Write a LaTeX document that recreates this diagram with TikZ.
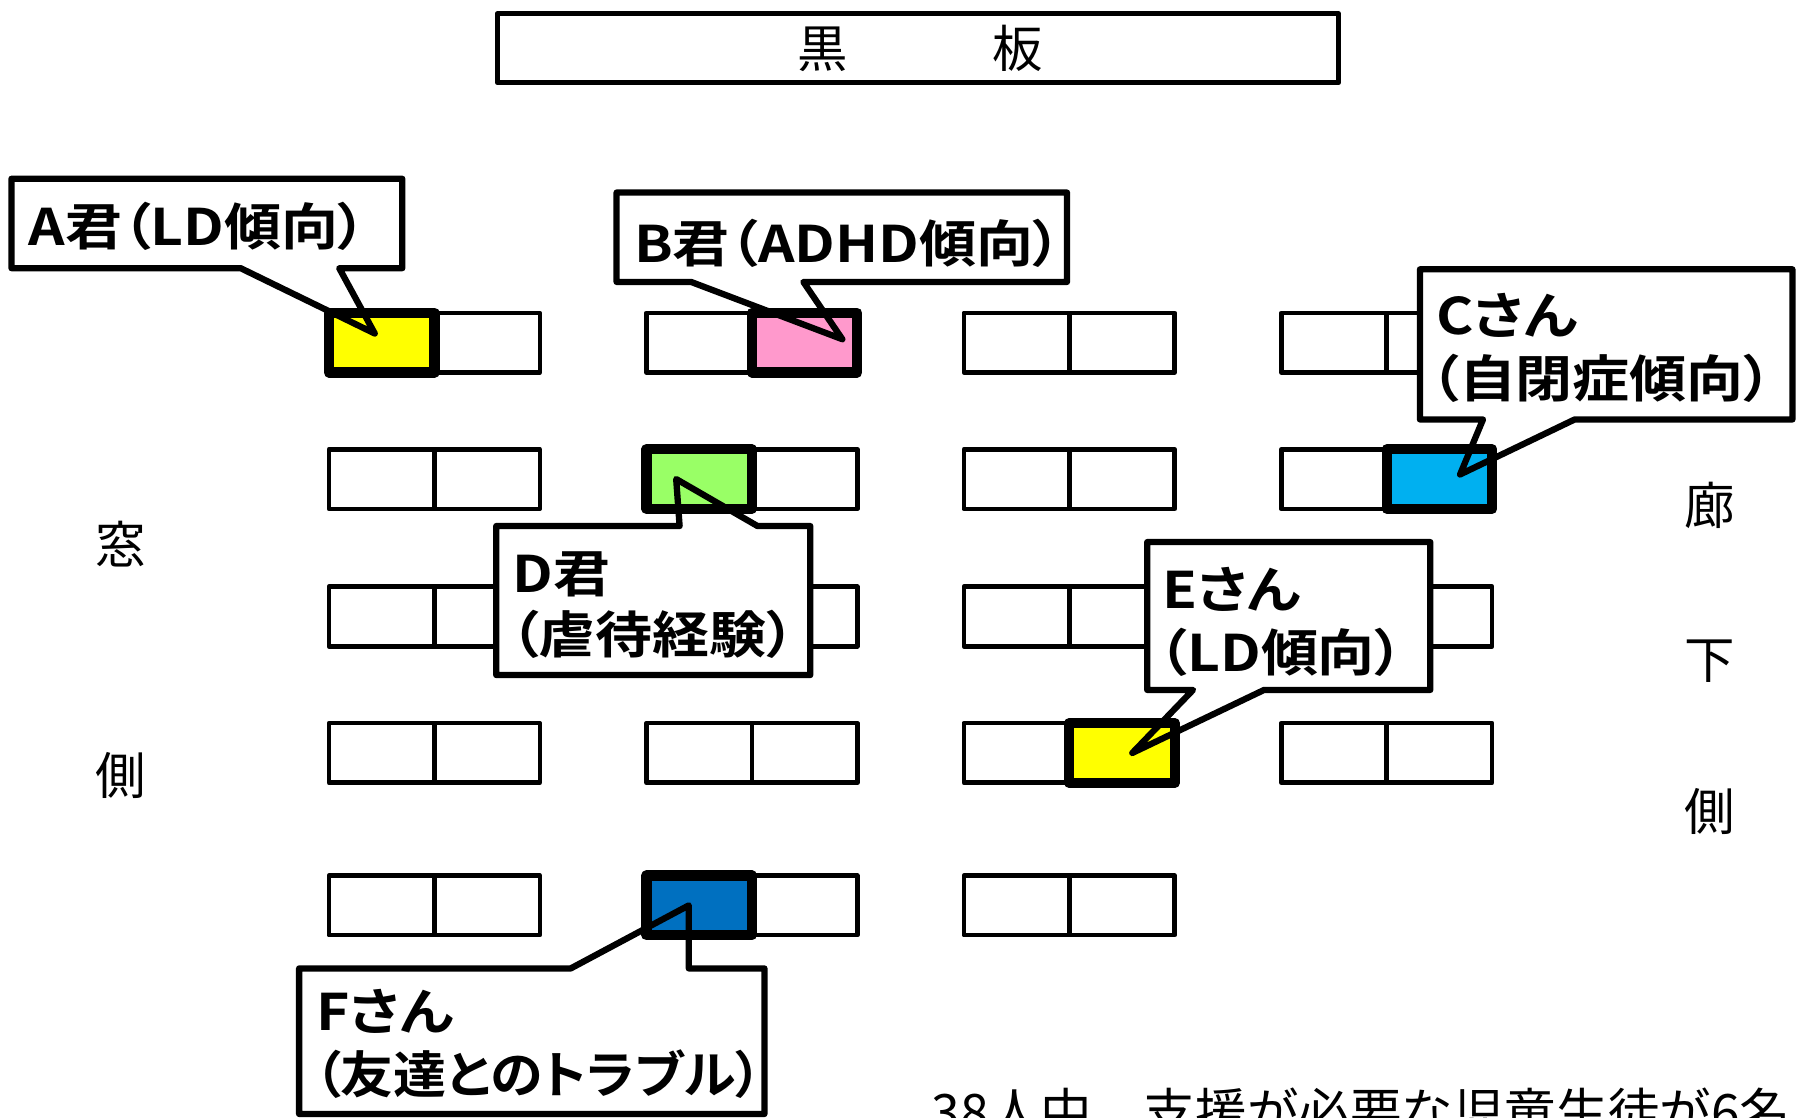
\documentclass[tikz,border=0pt]{standalone}
\usepackage{fontspec}
\newfontfamily\jp{Noto Sans CJK JP}
\newfontfamily\jpb{Noto Sans CJK JP Bold}[RawFeature=+palt, FakeStretch=1.13]
\definecolor{cYellow}{HTML}{FFFF00}
\definecolor{cPink}{HTML}{FF99CC}
\definecolor{cCyan}{HTML}{00B0F0}
\definecolor{cGreen}{HTML}{99FF66}
\definecolor{cBlue}{HTML}{0070C0}
\begin{document}
\begin{tikzpicture}[x=1pt,y=-1pt,
  desk/.style={draw=black, line width=4pt, line join=round},
  seat/.style={draw=black, line width=9pt, line join=round},
  callbox/.style={draw=black, line width=5.5pt, line join=round},
  ctext/.style={font=\jpb\fontsize{44}{50}\selectfont, inner sep=0pt, anchor=base west},
  lbl/.style={font=\jp\fontsize{44}{50}\selectfont, inner sep=0pt, anchor=base}]
\useasboundingbox (0,0) rectangle (1568,975);
\fill[white] (0,0) rectangle (1568,975);
% blackboard
\draw[line width=4.5pt, line join=round] (434,12) rectangle (1168,72);
\node[lbl] (board) at (803,59) {黒\hspace{126pt}板};
% side labels
\node[lbl] (w1) at (105,492) {窓};
\node[lbl] (w2) at (105,693) {側};
\node[lbl] (h1) at (1492,458) {廊};
\node[lbl] (h2) at (1492,592) {下};
\node[lbl] (h3) at (1492,725) {側};
% desks
\foreach \y in {273,392,512,631,764}{
  \foreach \x in {287,564,841,1118}{
    \pgfmathtruncatemacro{\skipit}{(\x==1118 && \y==764) ? 1 : 0}
    \ifnum\skipit=0
      \draw[desk] (\x,\y) rectangle ++(184,52);
      \draw[desk] (\x+92,\y) -- ++(0,52);
    \fi
  }
}
% callout shapes
\def\pA{(10,156) -- (351,156) -- (351,234) -- (296,234) -- (327,291) -- (210,234) -- (10,234) -- cycle}
\def\pB{(538,168) -- (931,168) -- (931,246) -- (701,246) -- (735,296) -- (603,246) -- (538,246) -- cycle}
\def\pC{(1239,235) -- (1564,235) -- (1564,366) -- (1374,366) -- (1274,414) -- (1294,366) -- (1239,366) -- cycle}
\def\pD{(433,459) -- (593,459) -- (590,418) -- (661,459) -- (707,459) -- (707,589) -- (433,589) -- cycle}
\def\pE{(1001,473) -- (1248,473) -- (1248,602) -- (1103,602) -- (988,657) -- (1041,602) -- (1001,602) -- cycle}
\def\pF{(261,845) -- (498,845) -- (601,790) -- (601,845) -- (667,845) -- (667,972) -- (261,972) -- cycle}
\foreach \p in {\pA,\pB,\pC,\pD,\pE,\pF}{\fill[white] \p;}
% highlighted seats
\draw[seat, fill=cYellow] (287,273) rectangle (379,325);
\draw[seat, fill=cPink] (656,273) rectangle (748,325);
\draw[seat, fill=cCyan] (1210,392) rectangle (1302,444);
\draw[seat, fill=cGreen] (564,392) rectangle (656,444);
\draw[seat, fill=cYellow] (933,631) rectangle (1025,683);
\draw[seat, fill=cBlue] (564,764) rectangle (656,816);
% callout outlines
\foreach \p in {\pA,\pB,\pC,\pD,\pE,\pF}{\draw[callbox] \p;}
% callout texts
\node[ctext] (tA) at (25,214) {A君（LD傾向）};
\node[ctext] (tB) at (553,229) {B君（ADHD傾向）};
\node[ctext] (tC1) at (1253,292) {Cさん};
\node[ctext] (tC2) at (1248,347) {（自閉症傾向）};
\node[ctext] (tD1) at (447,517) {D君};
\node[ctext] (tD2) at (445,570) {（虐待経験）};
\node[ctext] (tE1) at (1014,531) {Eさん};
\node[ctext] (tE2) at (1011,586) {（LD傾向）};
\node[ctext] (tF1) at (276,899) {Fさん};
\node[ctext] (tF2) at (274,954) {\scalebox{0.93}[1]{（友達とのトラブル）}};
% bottom note
\node[font=\jp\fontsize{45}{50}\selectfont, inner sep=0pt, anchor=base west] (note) at (813,987) {38人中、支援が必要な児童生徒が6名};
\end{tikzpicture}
\end{document}
